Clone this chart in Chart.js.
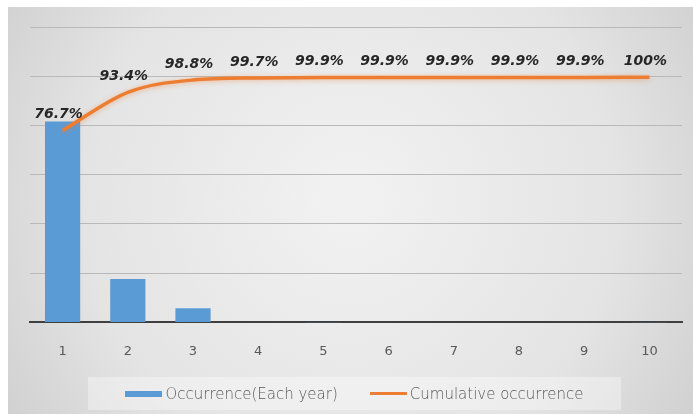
<!DOCTYPE html>
<html>
<head>
<meta charset="utf-8">
<script src="https://cdn.jsdelivr.net/npm/chart.js@4.4.0/dist/chart.umd.min.js"></script>
<style>
    body { margin: 0; background: #fff; }
    #wrap { position: relative; width: 693px; height: 416px; }
    #legend {
        position: absolute;
        left: 88px; top: 377px; width: 533px; height: 33px;
        background: rgba(255, 255, 255, 0.35);
        display: flex; align-items: center; justify-content: center;
        gap: 32px;
        font-family: "DejaVu Sans", sans-serif;
        font-weight: 300;
        font-size: 15px;
        color: #595959;
    }
    .legend-item { display: flex; align-items: center; }
    .legend-swatch { display: inline-block; width: 37px; margin-right: 3px; }
</style>
</head>
<body>
<div id="wrap">
    <canvas id="chart" width="693" height="416"></canvas>
    <div id="legend"></div>
</div>
<script>
// Chart data
const years = ['1', '2', '3', '4', '5', '6', '7', '8', '9', '10'];
const occurrence = [204, 44, 14.4, 0.5, 0.2, 0, 0, 0, 0, 0.1];
const cumulative = [76.7, 93.4, 98.8, 99.7, 99.9, 99.9, 99.9, 99.9, 99.9, 100];
const cumulativeLabels = ['76.7%', '93.4%', '98.8%', '99.7%', '99.9%', '99.9%', '99.9%', '99.9%', '99.9%', '100%'];

const BLUE = '#5B9BD5';
const ORANGE = '#ED7D31';

// Grey gradient panel behind the chart
const backgroundPlugin = {
    id: 'panelBackground',
    beforeDraw(chart) {
        const ctx = chart.ctx;
        ctx.save();
        ctx.fillStyle = '#ffffff';
        ctx.fillRect(0, 0, chart.width, chart.height);
        const g = ctx.createRadialGradient(350, 200, 20, 350, 200, 430);
        g.addColorStop(0, '#f1f1f1');
        g.addColorStop(0.6, '#e4e4e4');
        g.addColorStop(1, '#cdcdcd');
        ctx.fillStyle = g;
        ctx.fillRect(8, 7, chart.width - 8, chart.height - 9);
        ctx.restore();
    }
};

// Soft glow under the cumulative line
const glowPlugin = {
    id: 'lineGlow',
    beforeDatasetDraw(chart, args) {
        if (args.index !== 1) return;
        const ctx = chart.ctx;
        ctx.save();
        ctx.shadowColor = 'rgba(237,125,49,0.45)';
        ctx.shadowBlur = 5;
        ctx.shadowOffsetY = 1;
    },
    afterDatasetDraw(chart, args) {
        if (args.index !== 1) return;
        chart.ctx.restore();
    }
};

// Percent labels above each line point
const pointLabelPlugin = {
    id: 'pointLabels',
    afterDatasetsDraw(chart) {
        const meta = chart.getDatasetMeta(1);
        const ctx = chart.ctx;
        ctx.save();
        ctx.font = 'italic bold 14px "DejaVu Sans", sans-serif';
        ctx.fillStyle = '#262626';
        ctx.textAlign = 'center';
        ctx.textBaseline = 'middle';
        meta.data.forEach((pt, i) => {
            ctx.fillText(cumulativeLabels[i], pt.x - 4, pt.y - 16);
        });
        ctx.restore();
    }
};

const ctx = document.getElementById('chart').getContext('2d');
const chart = new Chart(ctx, {
    data: {
        labels: years,
        datasets: [
            {
                type: 'bar',
                label: 'Occurrence(Each year)',
                data: occurrence,
                backgroundColor: BLUE,
                borderWidth: 0,
                barPercentage: 0.54,
                categoryPercentage: 1,
                yAxisID: 'y',
                order: 2
            },
            {
                type: 'line',
                label: 'Cumulative occurrence',
                data: cumulative,
                borderColor: ORANGE,
                backgroundColor: ORANGE,
                borderWidth: 3.5,
                pointRadius: 0,
                cubicInterpolationMode: 'monotone',
                yAxisID: 'y1',
                order: 1
            }
        ]
    },
    options: {
        responsive: false,
        animation: false,
        layout: {
            padding: { left: 30, right: 11, top: 27, bottom: 36 }
        },
        scales: {
            x: {
                grid: { display: false, drawTicks: false },
                border: { color: '#3f3f3f', width: 2 },
                ticks: {
                    padding: 21,
                    color: '#595959',
                    font: { family: 'DejaVu Sans', size: 13 }
                }
            },
            y: {
                min: 0,
                max: 300,
                ticks: { display: false, stepSize: 50 },
                grid: { color: '#b9b9b9', lineWidth: 1, drawTicks: false },
                border: { display: false }
            },
            y1: {
                display: false,
                min: -7.3,
                max: 122
            }
        },
        plugins: {
            legend: { display: false },
            tooltip: { enabled: false }
        }
    },
    plugins: [backgroundPlugin, glowPlugin, pointLabelPlugin]
});

// HTML legend built from the datasets
function buildLegend() {
    const container = document.getElementById('legend');
    container.innerHTML = chart.data.datasets.map(ds => {
        const isLine = ds.type === 'line';
        const h = isLine ? 3 : 6;
        return `
            <span class="legend-item">
                <span class="legend-swatch" style="height:${h}px;background:${isLine ? ds.borderColor : ds.backgroundColor}"></span>
                <span>${ds.label}</span>
            </span>
        `;
    }).join('');
}

buildLegend();
</script>
</body>
</html>
